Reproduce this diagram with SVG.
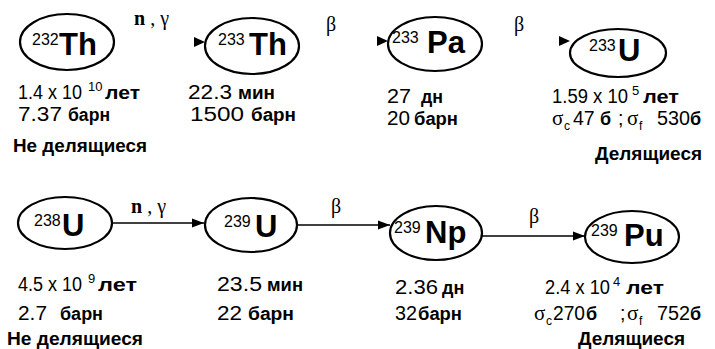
<svg xmlns="http://www.w3.org/2000/svg" width="715" height="349" viewBox="0 0 715 349">
<style>
text{font-family:"Liberation Sans",Arial,sans-serif;fill:#000}
.ell{fill:none;stroke:#000;stroke-width:2.2}
.el{font-weight:bold;font-size:31px}
.sup{font-weight:normal;font-size:16px}
.num{font-size:19.5px}
.u{font-weight:bold;font-size:18px}
.sp{font-size:13px}
.sb{font-size:12px}
.sig{font-family:"Liberation Serif","Times New Roman",serif;font-size:21px}
.cat{font-weight:bold;font-size:19px}
.ser{font-family:"Liberation Serif","Times New Roman",serif;font-size:20px}
.conn line{stroke:#000;stroke-width:1.7}
.head{fill:#000}
</style>
<defs>
<marker id="ah" markerUnits="userSpaceOnUse" markerWidth="13" markerHeight="10" refX="12" refY="5" orient="auto">
<path d="M0,0.5 L12,5 L0,9.5 z" fill="#000"/>
</marker>
</defs>
<rect width="715" height="349" fill="#fff"/>

<g id="connectors" class="conn">
<polygon class="head" points="194,37 205,42 194,47"/>
<polygon class="head" points="377,36 388,41 377,46"/>
<polygon class="head" points="559,36 570,41 559,46"/>
<line x1="112" y1="223" x2="204" y2="223" marker-end="url(#ah)"/>
<line x1="297" y1="225" x2="390" y2="225" marker-end="url(#ah)"/>
<line x1="482" y1="236" x2="585" y2="236" marker-end="url(#ah)"/>
<text class="ser" x="134" y="25"><tspan font-weight="bold">n</tspan> , γ</text>
<text class="ser" x="326" y="31">β</text>
<text class="ser" x="514" y="31">β</text>
<text class="ser" x="131" y="213"><tspan font-weight="bold">n</tspan> , γ</text>
<text class="ser" x="331" y="213">β</text>
<text class="ser" x="529" y="223">β</text>
</g>

<g id="th232">
<ellipse class="ell" cx="67" cy="42" rx="47" ry="28"/>
<text class="el"><tspan class="sup" x="32" y="45">232</tspan><tspan x="59" y="55">Th</tspan></text>
<text class="num" y="99"><tspan x="18" textLength="64" lengthAdjust="spacingAndGlyphs">1.4 x 10</tspan><tspan class="sp" x="88" y="91">10</tspan><tspan class="u" x="105" y="99" textLength="35" lengthAdjust="spacingAndGlyphs">лет</tspan></text>
<text class="num" y="121"><tspan x="18" textLength="44" lengthAdjust="spacingAndGlyphs">7.37</tspan><tspan class="u" x="68" textLength="42" lengthAdjust="spacingAndGlyphs">барн</tspan></text>
<text class="cat" x="13" y="152" textLength="134" lengthAdjust="spacingAndGlyphs">Не делящиеся</text>
</g>

<g id="th233">
<ellipse class="ell" cx="252" cy="46" rx="47" ry="28"/>
<text class="el"><tspan class="sup" x="218" y="45">233</tspan><tspan x="249" y="55">Th</tspan></text>
<text class="num" y="99"><tspan x="188" textLength="44" lengthAdjust="spacingAndGlyphs">22.3</tspan><tspan class="u" x="238" textLength="37" lengthAdjust="spacingAndGlyphs">мин</tspan></text>
<text class="num" y="121"><tspan x="190" textLength="54" lengthAdjust="spacingAndGlyphs">1500</tspan><tspan class="u" x="251" textLength="45" lengthAdjust="spacingAndGlyphs">барн</tspan></text>
</g>

<g id="pa233">
<ellipse class="ell" cx="435" cy="44" rx="47" ry="27"/>
<text class="el"><tspan class="sup" x="392" y="43">233</tspan><tspan x="427" y="53">Pa</tspan></text>
<text class="num" y="103"><tspan x="387" textLength="24" lengthAdjust="spacingAndGlyphs">27</tspan><tspan class="u" x="421" textLength="22" lengthAdjust="spacingAndGlyphs">дн</tspan></text>
<text class="num" y="125"><tspan x="387" textLength="23" lengthAdjust="spacingAndGlyphs">20</tspan><tspan class="u" x="414" textLength="44" lengthAdjust="spacingAndGlyphs">барн</tspan></text>
</g>

<g id="u233">
<ellipse class="ell" cx="618" cy="53" rx="48" ry="24"/>
<text class="el"><tspan class="sup" x="589" y="51">233</tspan><tspan x="618" y="61">U</tspan></text>
<text class="num" y="103"><tspan x="552" textLength="76" lengthAdjust="spacingAndGlyphs">1.59 x 10</tspan><tspan class="sp" x="632" y="95">5</tspan><tspan class="u" x="643" y="103" textLength="36" lengthAdjust="spacingAndGlyphs">лет</tspan></text>
<text class="num" y="125"><tspan class="sig" x="552">σ</tspan><tspan class="sb" x="564" y="130">c</tspan><tspan x="573" y="125">47</tspan><tspan class="u" x="600">б</tspan><tspan x="618">;</tspan><tspan class="sig" x="627">σ</tspan><tspan class="sb" x="639" y="130">f</tspan><tspan x="657" y="125" textLength="33" lengthAdjust="spacingAndGlyphs">530</tspan><tspan class="u" x="690">б</tspan></text>
<text class="cat" x="595" y="160" textLength="107" lengthAdjust="spacingAndGlyphs">Делящиеся</text>
</g>

<g id="u238">
<ellipse class="ell" cx="65" cy="223" rx="47" ry="26"/>
<text class="el"><tspan class="sup" x="34" y="226">238</tspan><tspan x="62" y="236">U</tspan></text>
<text class="num" y="291"><tspan x="18" textLength="64" lengthAdjust="spacingAndGlyphs">4.5 x 10</tspan><tspan class="sp" x="88" y="283">9</tspan><tspan class="u" x="98" y="291" textLength="39" lengthAdjust="spacingAndGlyphs">лет</tspan></text>
<text class="num" y="320"><tspan x="18" textLength="29" lengthAdjust="spacingAndGlyphs">2.7</tspan><tspan class="u" x="60" textLength="43" lengthAdjust="spacingAndGlyphs">барн</tspan></text>
<text class="cat" x="7" y="345" textLength="136" lengthAdjust="spacingAndGlyphs">Не делящиеся</text>
</g>

<g id="u239">
<ellipse class="ell" cx="251" cy="225" rx="46" ry="27"/>
<text class="el"><tspan class="sup" x="224" y="227">239</tspan><tspan x="255" y="237">U</tspan></text>
<text class="num" y="291"><tspan x="217" textLength="45" lengthAdjust="spacingAndGlyphs">23.5</tspan><tspan class="u" x="267" textLength="36" lengthAdjust="spacingAndGlyphs">мин</tspan></text>
<text class="num" y="320"><tspan x="217" textLength="25" lengthAdjust="spacingAndGlyphs">22</tspan><tspan class="u" x="248" textLength="46" lengthAdjust="spacingAndGlyphs">барн</tspan></text>
</g>

<g id="np239">
<ellipse class="ell" cx="436" cy="233" rx="46" ry="27"/>
<text class="el"><tspan class="sup" x="394" y="233">239</tspan><tspan x="425" y="243">Np</tspan></text>
<text class="num" y="294"><tspan x="395" textLength="43" lengthAdjust="spacingAndGlyphs">2.36</tspan><tspan class="u" x="442">дн</tspan></text>
<text class="num" y="320"><tspan x="395" textLength="22" lengthAdjust="spacingAndGlyphs">32</tspan><tspan class="u" x="418" textLength="44" lengthAdjust="spacingAndGlyphs">барн</tspan></text>
</g>

<g id="pu239">
<ellipse class="ell" cx="632" cy="237" rx="47" ry="26"/>
<text class="el"><tspan class="sup" x="591" y="236">239</tspan><tspan x="624" y="246">Pu</tspan></text>
<text class="num" y="294"><tspan x="545" textLength="65" lengthAdjust="spacingAndGlyphs">2.4 x 10</tspan><tspan class="sp" x="613" y="286">4</tspan><tspan class="u" x="626" y="294" textLength="38" lengthAdjust="spacingAndGlyphs">лет</tspan></text>
<text class="num" y="320"><tspan class="sig" x="534">σ</tspan><tspan class="sb" x="546" y="325">c</tspan><tspan x="553" y="320" textLength="32" lengthAdjust="spacingAndGlyphs">270</tspan><tspan class="u" x="586">б</tspan><tspan x="620">;</tspan><tspan class="sig" x="627">σ</tspan><tspan class="sb" x="639" y="325">f</tspan><tspan x="657" y="320" textLength="33" lengthAdjust="spacingAndGlyphs">752</tspan><tspan class="u" x="690">б</tspan></text>
<text class="cat" x="578" y="345" textLength="107" lengthAdjust="spacingAndGlyphs">Делящиеся</text>
</g>
</svg>
